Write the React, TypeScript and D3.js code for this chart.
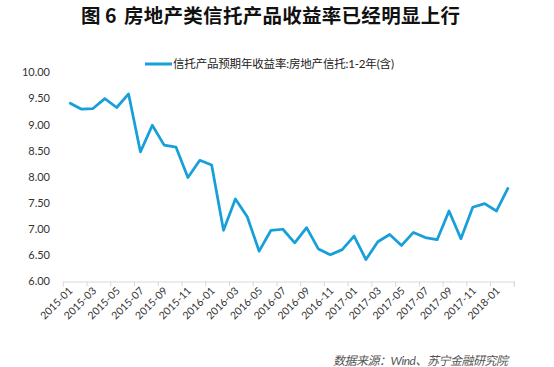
import { useEffect, useRef } from "react";
import * as d3 from "d3";

const months = [
  "2015-01", "2015-02", "2015-03", "2015-04", "2015-05", "2015-06", "2015-07", "2015-08",
  "2015-09", "2015-10", "2015-11", "2015-12", "2016-01", "2016-02", "2016-03", "2016-04",
  "2016-05", "2016-06", "2016-07", "2016-08", "2016-09", "2016-10", "2016-11", "2016-12",
  "2017-01", "2017-02", "2017-03", "2017-04", "2017-05", "2017-06", "2017-07", "2017-08",
  "2017-09", "2017-10", "2017-11", "2017-12", "2018-01", "2018-02",
];

const yields = [
  9.42, 9.3, 9.31, 9.5, 9.33, 9.59, 8.48, 8.99, 8.61, 8.57, 7.99, 8.32, 8.23,
  6.98, 7.58, 7.24, 6.58, 6.98, 7.0, 6.74, 7.03, 6.62, 6.51, 6.61, 6.87, 6.42,
  6.76, 6.9, 6.69, 6.94, 6.84, 6.8, 7.35, 6.82, 7.42, 7.49, 7.35, 7.8,
];

const yTicks = [6, 6.5, 7, 7.5, 8, 8.5, 9, 9.5, 10];

const titleNo = "图 6";
const title = "房地产类信托产品收益率已经明显上行";
const seriesName = "信托产品预期年收益率:房地产信托:1-2年(含)";
const source = "数据来源：Wind、苏宁金融研究院";

export default function App() {
  const ref = useRef<SVGSVGElement | null>(null);

  useEffect(() => {
    if (!ref.current) return;
    ref.current.innerHTML = "";
    const svg = d3.select(ref.current);
    const font = "Lato, 'Noto Sans CJK SC', sans-serif";

    // title
    const t = svg
      .append("g")
      .attr("font-family", "'Noto Sans CJK SC', sans-serif")
      .attr("font-weight", "bold")
      .attr("font-size", 19.5)
      .attr("fill", "#111");
    t.append("text").attr("x", 81).attr("y", 23).text(titleNo);
    t.append("text")
      .attr("x", 124)
      .attr("y", 23)
      .attr("textLength", 336)
      .attr("lengthAdjust", "spacing")
      .text(title);

    // legend
    svg
      .append("line")
      .attr("x1", 145)
      .attr("x2", 172)
      .attr("y1", 64)
      .attr("y2", 64)
      .attr("stroke", "#169fd9")
      .attr("stroke-width", 3);
    svg
      .append("text")
      .attr("x", 173)
      .attr("y", 67.5)
      .attr("font-family", font)
      .attr("font-size", 11.5)
      .attr("fill", "#222")
      .attr("textLength", 221)
      .attr("lengthAdjust", "spacing")
      .text(seriesName);

    const x = d3.scaleBand().domain(months).range([63.3, 514.3]).padding(0);
    const y = d3.scaleLinear().domain([6, 10]).range([281.5, 72.5]);

    // y labels
    svg
      .append("g")
      .selectAll("text")
      .data(yTicks)
      .join("text")
      .attr("x", 50)
      .attr("y", (d) => y(d))
      .attr("dy", "0.35em")
      .attr("text-anchor", "end")
      .attr("font-family", font)
      .attr("font-size", 11)
      .attr("fill", "#333")
      .text((d) => d.toFixed(2));

    // x axis
    const axis = svg.append("g");
    axis
      .append("line")
      .attr("x1", x.range()[0])
      .attr("x2", x.range()[1])
      .attr("y1", y(6) + 0.5)
      .attr("y2", y(6) + 0.5)
      .attr("stroke", "#d9d9d9");
    const tickIdx = d3.range(0, months.length + 1, 2);
    axis
      .selectAll("line.tick")
      .data(tickIdx)
      .join("line")
      .attr("class", "tick")
      .attr("x1", (i) => x.range()[0] + i * x.bandwidth())
      .attr("x2", (i) => x.range()[0] + i * x.bandwidth())
      .attr("y1", y(6))
      .attr("y2", y(6) + 5)
      .attr("stroke", "#d9d9d9");
    axis
      .append("line")
      .attr("x1", x.range()[1])
      .attr("x2", x.range()[1])
      .attr("y1", y(6))
      .attr("y2", y(6) + 5)
      .attr("stroke", "#d9d9d9");

    const labels = months.filter((_, i) => i % 2 === 0);
    axis
      .selectAll("text")
      .data(labels)
      .join("text")
      .attr("transform", (d) => {
        const cx = (x(d) ?? 0) + x.bandwidth() / 2 + 4;
        return `translate(${cx},${y(6) + 10}) rotate(-45)`;
      })
      .attr("text-anchor", "end")
      .attr("font-family", font)
      .attr("font-size", 10.5)
      .attr("fill", "#333")
      .text((d) => d);

    // line
    svg
      .append("path")
      .datum(yields)
      .attr("fill", "none")
      .attr("stroke", "#169fd9")
      .attr("stroke-width", 2.75)
      .attr("stroke-linejoin", "round")
      .attr(
        "d",
        d3
          .line<number>()
          .x((_, i) => (x(months[i]) ?? 0) + x.bandwidth() / 2)
          .y((d) => y(d))
      );

    // source
    svg
      .append("text")
      .attr("x", 508)
      .attr("y", 365)
      .attr("text-anchor", "end")
      .attr("font-family", font)
      .attr("font-style", "italic")
      .attr("font-size", 12)
      .attr("fill", "#555")
      .attr("textLength", 175)
      .attr("lengthAdjust", "spacing")
      .text(source);
  }, []);

  return (
    <svg
      ref={ref}
      width={554}
      height={367}
      style={{ position: "absolute", left: 0, top: 0, background: "#fff" }}
    />
  );
}
